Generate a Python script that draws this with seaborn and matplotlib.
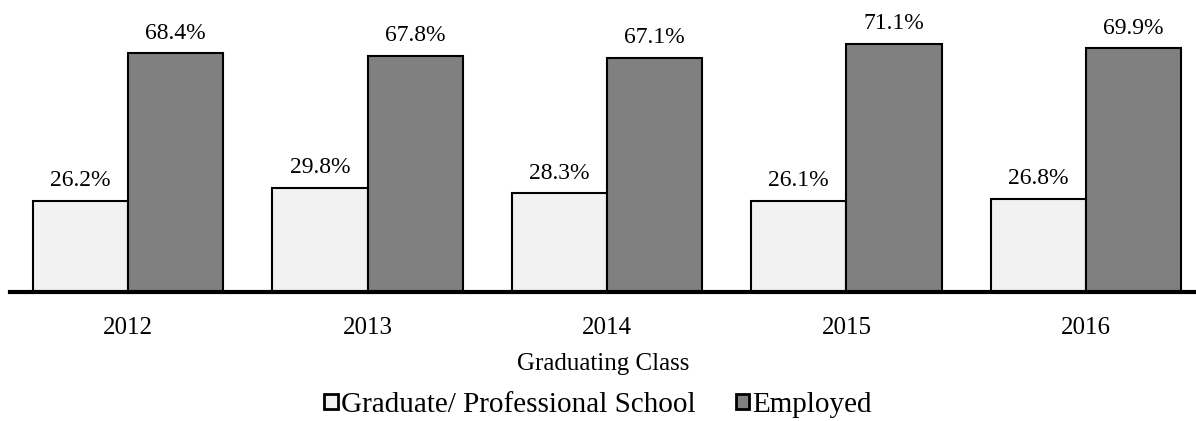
import pandas as pd
import seaborn as sns
import matplotlib.pyplot as plt
from matplotlib.patches import Patch

# dados do grafico
anos = ["2012", "2013", "2014", "2015", "2016"]
pos_graduacao = [26.2, 29.8, 28.3, 26.1, 26.8]
empregados = [68.4, 67.8, 67.1, 71.1, 69.9]
series = ["Graduate/ Professional School", "Employed"]
cores = ["#f2f2f2", "#808080"]

tabela = pd.DataFrame({
    "Ano": anos * 2,
    "Valor": pos_graduacao + empregados,
    "Serie": [series[0]] * len(anos) + [series[1]] * len(anos),
})

sns.set_style("white")
plt.rcParams["font.family"] = ["Liberation Serif", "DejaVu Serif"]
plt.rcParams["text.color"] = "black"
plt.rcParams["xtick.color"] = "black"
plt.rcParams["axes.labelcolor"] = "black"

fig = plt.figure(figsize=(11.96, 4.21), dpi=100)
ax = fig.add_axes([10 / 1196, 1 - 292 / 421, 1 - 10 / 1196, 279 / 421])

sns.barplot(data=tabela, x="Ano", y="Valor", hue="Serie", palette=cores,
            width=0.795, edgecolor="black", linewidth=1.5, legend=False, ax=ax)

for container in ax.containers:
    ax.bar_label(container, labels=[f"{v:.1f}%" for v in container.datavalues],
                 padding=7, fontsize=17)

ax.set_ylim(0, 80)
ax.set_xlim(-0.493, 4.46)
ax.set_yticks([])
ax.set_ylabel("")
for lado in ["top", "right", "left"]:
    ax.spines[lado].set_visible(False)
ax.spines["bottom"].set_linewidth(3)
ax.spines["bottom"].set_color("black")
ax.tick_params(axis="x", length=0, labelsize=18, pad=18)
ax.set_xlabel("Graduating Class", fontsize=18, labelpad=10)

handles = [Patch(facecolor=c, edgecolor="black", linewidth=2) for c in cores]
fig.legend(handles, series, loc="center", bbox_to_anchor=(0.5, 1 - 405 / 421),
           ncol=2, frameon=False, fontsize=21, handlelength=0.45, handleheight=0.45,
           handletextpad=0.1, columnspacing=1.4, borderpad=0)

fig.savefig("out.png", dpi=100)
